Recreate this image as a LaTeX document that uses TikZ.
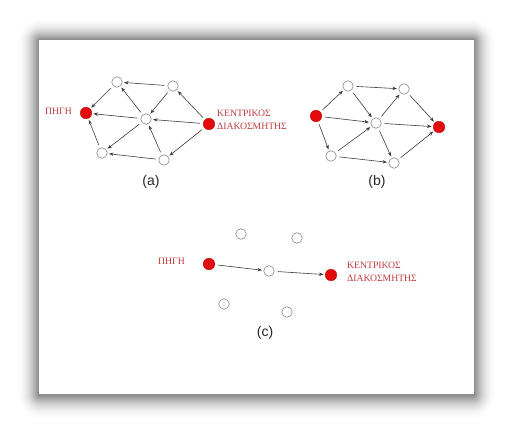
\documentclass[tikz,border=0pt]{standalone}
\usepackage{fontspec}
\setmainfont{Liberation Serif}
\newfontfamily\labsans{Liberation Sans}
\usetikzlibrary{arrows.meta}
\definecolor{nodered}{RGB}{226,10,10}
\definecolor{txtred}{RGB}{190,60,60}
\definecolor{edgegray}{RGB}{60,60,60}
\definecolor{ringgray}{RGB}{135,135,135}
\tikzset{
  onode/.style={circle, draw=ringgray, fill=white, line width=0.6pt, minimum size=10.5pt, inner sep=0pt},
  rnode/.style={circle, draw=nodered!85!black, fill=nodered, line width=0.4pt, minimum size=11.5pt, inner sep=0pt},
  redlab/.style={text=txtred, font=\fontsize{9.7}{13}\selectfont, align=left, inner sep=0pt},
  caplab/.style={font=\labsans\fontsize{14}{15}\selectfont, text=black!85, inner sep=0pt},
  edge/.style={draw=edgegray, line width=0.6pt, -{Stealth[length=4.5pt,width=3.4pt]}, shorten >=1.5pt, shorten <=3pt}
}
\begin{document}
\begin{tikzpicture}[x=1pt,y=-1pt]
\useasboundingbox (0,0) rectangle (512,433);
\fill[white] (0,0) rectangle (512,433);
% soft shadow: layers from outside in, darker towards panel
\foreach \i in {26,25,...,1}{
  \pgfmathsetmacro{\p}{48*(1-\i/27)^2}
  \fill[black!\p, rounded corners=\i pt] ({39-0.85*\i},{40-0.85*\i}) rectangle ({474+0.85*\i},{394+0.95*\i+1});
}
\fill[white] (39,40) rectangle (474,394);

% ---------- (a) ----------
\node[rnode] (aS) at (86,113) {};
\node[onode] (aTL) at (117,82) {};
\node[onode] (aTR) at (173,86) {};
\node[onode] (aC) at (146,119) {};
\node[rnode] (aR) at (209,124) {};
\node[onode] (aBL) at (102,153) {};
\node[onode] (aBR) at (164,160) {};
\node[redlab, anchor=east] (aSl) at (72,111) {ΠΗΓΗ};
\node[redlab, anchor=west] (aRl) at (217,119.5) {ΚΕΝΤΡΙΚΟΣ\\ΔΙΑΚΟΣΜΗΤΗΣ};
\node[caplab] (acap) at (151,182) {(a)};
\draw[edge] (aTR) -- (aTL);
\draw[edge] (aTL) -- (aS);
\draw[edge] (aC) -- (aS);
\draw[edge] (aBL) -- (aS);
\draw[edge] (aC) -- (aTL);
\draw[edge] (aTR) -- (aC);
\draw[edge] (aR) -- (aTR);
\draw[edge] (aR) -- (aC);
\draw[edge] (aR) -- (aBR);
\draw[edge] (aC) -- (aBL);
\draw[edge] (aBR) -- (aC);
\draw[edge] (aBR) -- (aBL);

% ---------- (b) ----------
\node[rnode] (bL) at (316,116) {};
\node[onode] (bTL) at (348,86) {};
\node[onode] (bTR) at (404,89) {};
\node[onode] (bC) at (376,123) {};
\node[rnode] (bR) at (439,127) {};
\node[onode] (bBL) at (331,156) {};
\node[onode] (bBR) at (394,163) {};
\node[caplab] (bcap) at (377,182) {(b)};
\draw[edge] (bL) -- (bTL);
\draw[edge] (bL) -- (bC);
\draw[edge] (bL) -- (bBL);
\draw[edge] (bTL) -- (bTR);
\draw[edge] (bTL) -- (bC);
\draw[edge] (bC) -- (bTR);
\draw[edge] (bTR) -- (bR);
\draw[edge] (bC) -- (bR);
\draw[edge] (bC) -- (bBR);
\draw[edge] (bBL) -- (bC);
\draw[edge] (bBL) -- (bBR);
\draw[edge] (bBR) -- (bR);

% ---------- (c) ----------
\node[onode] (cTL) at (241,234) {};
\node[onode] (cTR) at (297,238) {};
\node[rnode] (cL) at (209,264) {};
\node[onode] (cC) at (269,271) {};
\node[rnode] (cR) at (331,275) {};
\node[onode] (cBL) at (224,304) {};
\node[onode] (cBR) at (287,312) {};
\node[redlab, anchor=east] (cLl) at (185,261) {ΠΗΓΗ};
\node[redlab, anchor=west] (cRl) at (347,272) {ΚΕΝΤΡΙΚΟΣ\\ΔΙΑΚΟΣΜΗΤΗΣ};
\node[caplab] (ccap) at (265,333) {(c)};
\draw[edge] (cL) -- (cC);
\draw[edge] (cC) -- (cR);
\end{tikzpicture}
\end{document}
